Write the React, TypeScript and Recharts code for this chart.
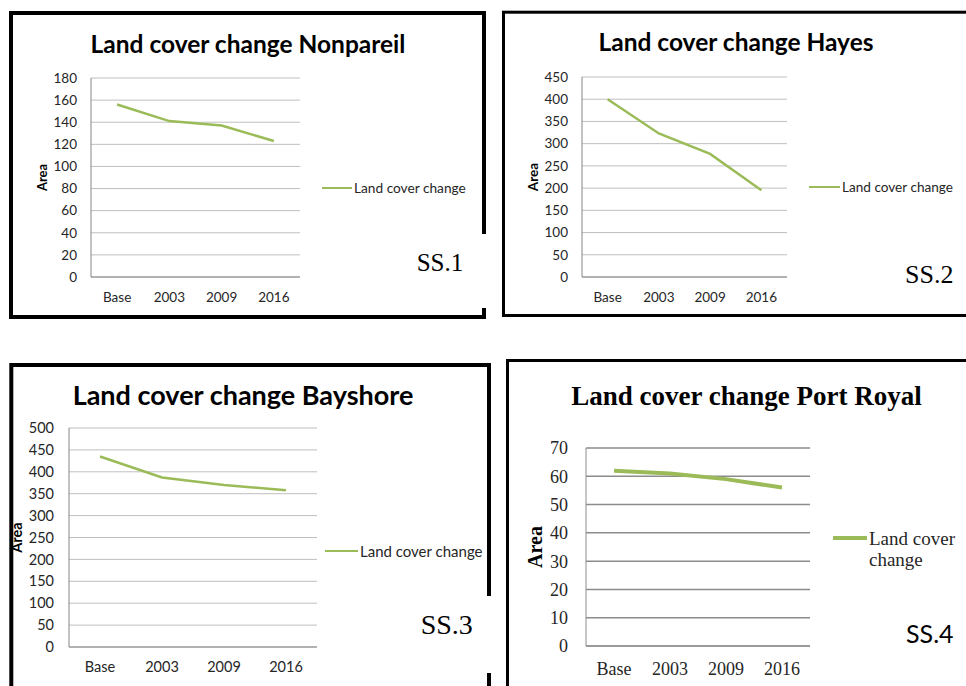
import React from "react";
import {
  LineChart,
  Line,
  XAxis,
  YAxis,
  CartesianGrid,
  Legend,
} from "recharts";

const categories = ["Base", "2003", "2009", "2016"];

const nonpareilArea = [156, 141, 137, 123];
const hayesArea = [400, 323, 277, 195];
const bayshoreArea = [435, 387, 370, 358];
const portRoyalArea = [62, 61, 59, 56];

const nonpareilTicks = [0, 20, 40, 60, 80, 100, 120, 140, 160, 180];
const hayesTicks = [0, 50, 100, 150, 200, 250, 300, 350, 400, 450];
const bayshoreTicks = [0, 50, 100, 150, 200, 250, 300, 350, 400, 450, 500];
const portRoyalTicks = [0, 10, 20, 30, 40, 50, 60, 70];

const SERIES_NAME = "Land cover change";
const GREEN = "#9bbb59";
const SANS = "Lato, 'Open Sans', sans-serif";
const SERIF = "'Liberation Serif', 'Times New Roman', serif";
const TEXT = "#262626";

type PanelProps = {
  left: number;
  top: number;
  width: number;
  height: number;
  margin: { top: number; right: number; bottom: number; left: number };
  yAxisWidth: number;
  values: number[];
  ticks: number[];
  font: string;
  tickFont: number;
  xTickMargin: number;
  yTickMargin: number;
  gridColor: string;
  axisColor: string;
  strokeWidth: number;
  areaX: number;
  areaFont: number;
  legendX: number;
  legendY: number;
  legendFont: number;
  legendLine: number;
  legendLineHeight: number;
  legendTextWidth?: number;
};

function AreaPanel(p: PanelProps) {
  const data = categories.map((period, i) => ({ period, area: p.values[i] }));
  const plotWidth = p.width - p.margin.left - p.yAxisWidth - p.margin.right;
  const half = plotWidth / categories.length / 2;
  const tickStyle = { fontSize: p.tickFont, fill: TEXT, fontFamily: p.font };

  return (
    <div style={{ position: "absolute", left: p.left, top: p.top }}>
      <LineChart width={p.width} height={p.height} data={data} margin={p.margin}>
        <CartesianGrid vertical={false} stroke={p.gridColor} strokeWidth={p.font === SERIF ? 1.5 : 1} />
        <XAxis
          dataKey="period"
          interval={0}
          tick={tickStyle}
          tickLine={false}
          tickSize={0}
          tickMargin={p.xTickMargin}
          axisLine={{ stroke: p.axisColor }}
          padding={{ left: half, right: half }}
          height={30}
        />
        <YAxis
          domain={[0, p.ticks[p.ticks.length - 1]]}
          ticks={p.ticks}
          interval={0}
          width={p.yAxisWidth}
          tick={tickStyle}
          tickLine={false}
          tickSize={0}
          tickMargin={p.yTickMargin}
          axisLine={{ stroke: p.axisColor }}
          label={{
            value: "Area",
            content: ({ viewBox }: any) => {
              const cy = viewBox.y + viewBox.height / 2;
              return (
                <text
                  x={p.areaX}
                  y={cy}
                  transform={`rotate(-90 ${p.areaX} ${cy})`}
                  textAnchor="middle"
                  dominantBaseline="central"
                  fontFamily={p.font}
                  fontWeight="bold"
                  fontSize={p.areaFont}
                  fill="#000"
                >
                  Area
                </text>
              );
            },
          }}
        />
        <Legend
          layout="vertical"
          align="center"
          verticalAlign="middle"
          wrapperStyle={{
            left: p.legendX,
            top: p.legendY - p.legendLineHeight / 2,
            width: "auto",
          }}
          content={({ payload }: any) => (
            <div
              style={{
                display: "flex",
                alignItems: "flex-start",
                fontFamily: p.font,
                fontSize: p.legendFont,
                lineHeight: `${p.legendLineHeight}px`,
                color: TEXT,
              }}
            >
              <span
                style={{
                  flex: "none",
                  width: p.legendLine,
                  height: p.strokeWidth,
                  background: GREEN,
                  marginTop: p.legendLineHeight / 2 - p.strokeWidth / 2,
                  marginRight: 2,
                }}
              />
              <span
                style={{
                  width: p.legendTextWidth,
                  whiteSpace: p.legendTextWidth ? "normal" : "nowrap",
                }}
              >
                {payload && payload[0] ? payload[0].value : SERIES_NAME}
              </span>
            </div>
          )}
        />
        <Line
          type="linear"
          dataKey="area"
          name={SERIES_NAME}
          stroke={GREEN}
          strokeWidth={p.strokeWidth}
          dot={false}
          activeDot={false}
          isAnimationActive={false}
        />
      </LineChart>
    </div>
  );
}

// frames, titles and panel tags sit behind the charts
function Frames() {
  return (
    <svg
      width={966}
      height={686}
      style={{ position: "absolute", left: 0, top: 0 }}
    >
      <rect x={0} y={0} width={966} height={686} fill="#fff" />
      <rect x={11} y={13} width={473} height={304} fill="none" stroke="#000" strokeWidth={4} />
      <rect x={478} y={234} width={14} height={74} fill="#fff" />
      <rect x={503.5} y={12.2} width={500} height={303.3} fill="none" stroke="#000" strokeWidth={3} />
      <rect x={11.3} y={365} width={477.7} height={400} fill="none" stroke="#000" strokeWidth={4} />
      <rect x={484} y={596} width={14} height={77} fill="#fff" />
      <rect x={507.5} y={360.5} width={500} height={400} fill="none" stroke="#000" strokeWidth={3} />

      <g fill="#000" fontWeight="bold" textAnchor="middle">
        <text x={248} y={53} fontFamily={SANS} fontSize={24.5}>Land cover change Nonpareil</text>
        <text x={736} y={51} fontFamily={SANS} fontSize={24.5}>Land cover change Hayes</text>
        <text x={243} y={405} fontFamily={SANS} fontSize={27}>Land cover change Bayshore</text>
        <text x={746.5} y={405} fontFamily={SERIF} fontSize={27}>Land cover change Port Royal</text>
      </g>

      <g fill="#000">
        <text x={416.7} y={270.5} fontFamily={SERIF} fontSize={25}>SS.1</text>
        <text x={905} y={282.5} fontFamily={SERIF} fontSize={26}>SS.2</text>
        <text x={420.7} y={634} fontFamily={SERIF} fontSize={28}>SS.3</text>
        <text x={906} y={643} fontFamily={SANS} fontSize={25}>SS.4</text>
      </g>
    </svg>
  );
}

export default function App() {
  return (
    <div style={{ position: "absolute", left: 0, top: 0, width: 966, height: 686, overflow: "hidden" }}>
      <Frames />
      <AreaPanel
        left={0}
        top={0}
        width={490}
        height={330}
        margin={{ top: 78, right: 190, bottom: 23, left: 31 }}
        yAxisWidth={60}
        values={nonpareilArea}
        ticks={nonpareilTicks}
        font={SANS}
        tickFont={13.5}
        xTickMargin={15}
        yTickMargin={14}
        gridColor="#bfbfbf"
        axisColor="#868686"
        strokeWidth={2.5}
        areaX={42}
        areaFont={13}
        legendX={322}
        legendY={188}
        legendFont={13.7}
        legendLine={30}
        legendLineHeight={18}
      />
      <AreaPanel
        left={490}
        top={0}
        width={476}
        height={330}
        margin={{ top: 77, right: 179, bottom: 23, left: 32 }}
        yAxisWidth={60}
        values={hayesArea}
        ticks={hayesTicks}
        font={SANS}
        tickFont={13.5}
        xTickMargin={15}
        yTickMargin={14}
        gridColor="#bfbfbf"
        axisColor="#868686"
        strokeWidth={2.5}
        areaX={42.5}
        areaFont={13.5}
        legendX={319}
        legendY={187}
        legendFont={13.6}
        legendLine={31}
        legendLineHeight={18}
      />
      <AreaPanel
        left={0}
        top={350}
        width={500}
        height={336}
        margin={{ top: 78, right: 183, bottom: 9, left: 19 }}
        yAxisWidth={50}
        values={bayshoreArea}
        ticks={bayshoreTicks}
        font={SANS}
        tickFont={14.5}
        xTickMargin={15}
        yTickMargin={15}
        gridColor="#bfbfbf"
        axisColor="#868686"
        strokeWidth={2.5}
        areaX={16.5}
        areaFont={14.5}
        legendX={325}
        legendY={201}
        legendFont={15}
        legendLine={33}
        legendLineHeight={20}
      />
      <AreaPanel
        left={500}
        top={350}
        width={466}
        height={336}
        margin={{ top: 98, right: 156, bottom: 10, left: 26 }}
        yAxisWidth={60}
        values={portRoyalArea}
        ticks={portRoyalTicks}
        font={SERIF}
        tickFont={18}
        xTickMargin={16}
        yTickMargin={18}
        gridColor="#8c8c8c"
        axisColor="#8c8c8c"
        strokeWidth={4}
        areaX={35}
        areaFont={20}
        legendX={333}
        legendY={188}
        legendFont={19}
        legendLine={34}
        legendLineHeight={21}
        legendTextWidth={100}
      />
    </div>
  );
}
